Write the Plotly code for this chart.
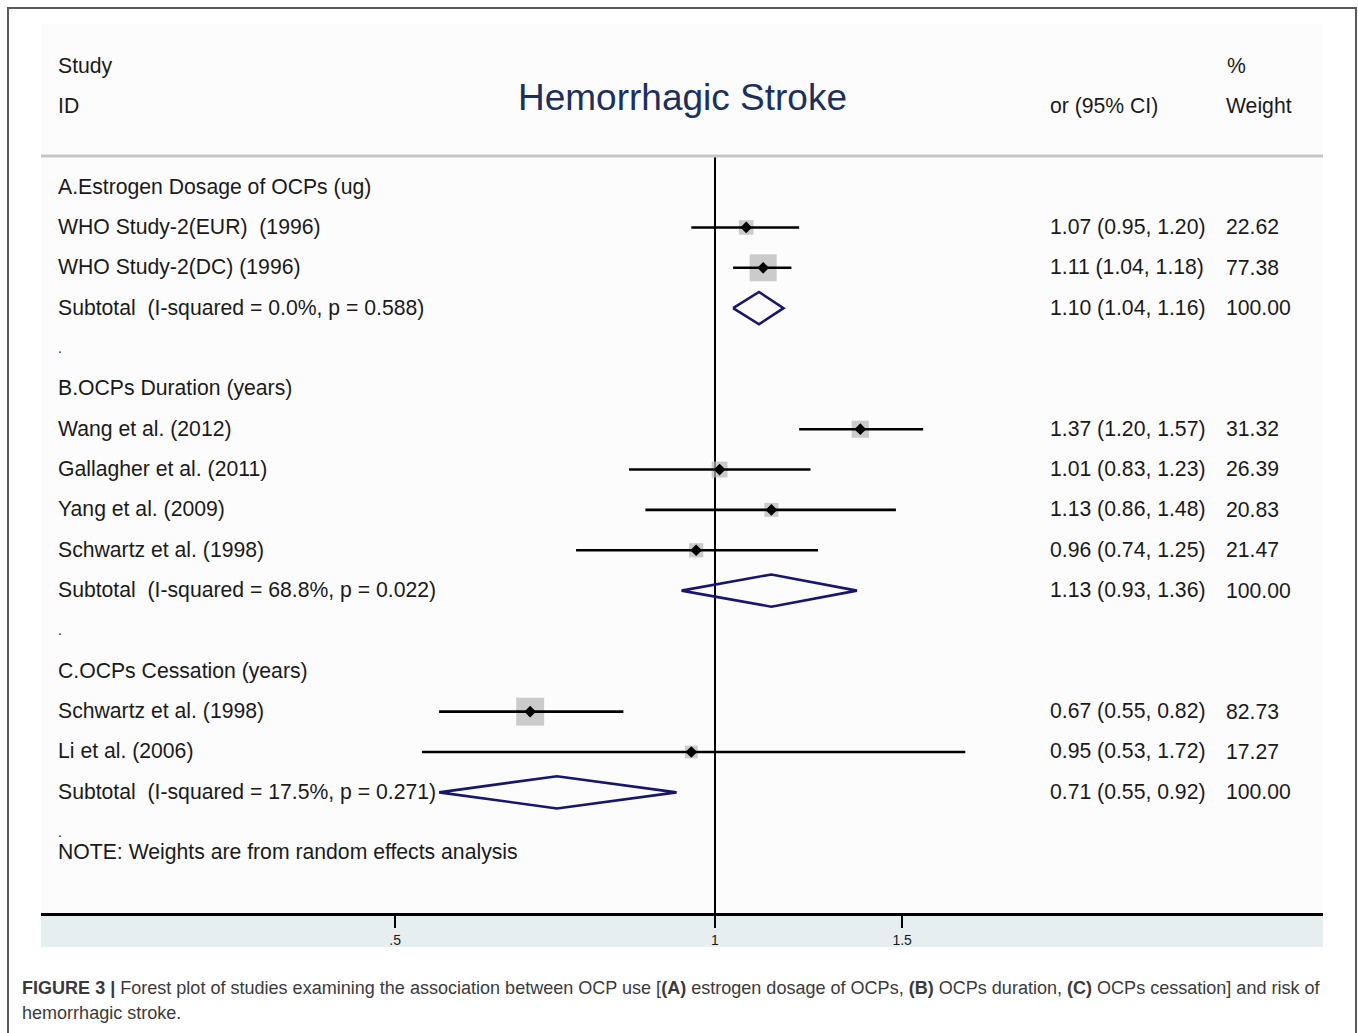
import math
import plotly.graph_objects as go

# ---- data -------------------------------------------------------------
# row index of each line in the forest plot (0 = first group heading)
study_rows = [1, 2, 6, 7, 8, 9, 13, 14]
study_labels = [
    "WHO Study-2(EUR)  (1996)",
    "WHO Study-2(DC) (1996)",
    "Wang et al. (2012)",
    "Gallagher et al. (2011)",
    "Yang et al. (2009)",
    "Schwartz et al. (1998)",
    "Schwartz et al. (1998)",
    "Li et al. (2006)",
]
study_or = [1.07, 1.11, 1.37, 1.01, 1.13, 0.96, 0.67, 0.95]
study_lo = [0.95, 1.04, 1.20, 0.83, 0.86, 0.74, 0.55, 0.53]
study_hi = [1.20, 1.18, 1.57, 1.23, 1.48, 1.25, 0.82, 1.72]
study_wt = [22.62, 77.38, 31.32, 26.39, 20.83, 21.47, 82.73, 17.27]

subtotal_rows = [3, 10, 15]
subtotal_labels = [
    "Subtotal  (I-squared = 0.0%, p = 0.588)",
    "Subtotal  (I-squared = 68.8%, p = 0.022)",
    "Subtotal  (I-squared = 17.5%, p = 0.271)",
]
subtotal_or = [1.10, 1.13, 0.71]
subtotal_lo = [1.04, 0.93, 0.55]
subtotal_hi = [1.16, 1.36, 0.92]
subtotal_wt = [100.00, 100.00, 100.00]

group_rows = [0, 5, 12]
group_labels = [
    "A.Estrogen Dosage of OCPs (ug)",
    "B.OCPs Duration (years)",
    "C.OCPs Cessation (years)",
]
spacer_rows = [4, 11, 16]
note_row = 16.5
note_text = "NOTE: Weights are from random effects analysis"

tick_vals = [0.5, 1, 1.5]
tick_text = [".5", "1", "1.5"]

caption_lines = [
    "<b>FIGURE 3 |</b> Forest plot of studies examining the association between OCP use "
    "[<b>(A)</b> estrogen dosage of OCPs, <b>(B)</b> OCPs duration, <b>(C)</b> OCPs cessation] "
    "and risk of",
    "hemorrhagic stroke.",
]

# ---- layout constants ---------------------------------------------------
W, H = 1358, 1033
ML, MR, MT, MB = 41, 35, 24, 120
PLOT_W = W - ML - MR
PLOT_H = H - MT - MB
ROW0_PX, ROW_PX = 186.5, 40.35        # pixel of row 0 and row pitch
PX_PER_LN = 461.5                     # pixels per natural-log unit
NULL_PX = 715                         # pixel of OR = 1
MARK_SHIFT = 0.6 / ROW_PX             # marks sit slightly below the text centre


def row_of(py):
    return (py - ROW0_PX) / ROW_PX


def px_x(px):
    return (px - ML) / PLOT_W


def px_y(py):
    return (MT + PLOT_H - py) / PLOT_H


x_lo = math.log10(math.exp((ML - NULL_PX) / PX_PER_LN))
x_hi = math.log10(math.exp((ML + PLOT_W - NULL_PX) / PX_PER_LN))
y_top = row_of(MT)
y_bot = row_of(MT + PLOT_H)

FONT = "Liberation Sans, Arial, Helvetica, sans-serif"
TXT = "#1a1a1a"
NAVY = "#16166e"

fig = go.Figure()

mark_rows = [r + MARK_SHIFT for r in study_rows]

# weight boxes (area proportional to weight)
fig.add_trace(go.Scatter(
    x=study_or, y=mark_rows, mode="markers",
    marker=dict(symbol="square", color="#b7b7b7",
                size=[3.07 * math.sqrt(w) for w in study_wt],
                line=dict(width=0)),
    hoverinfo="skip", showlegend=False))

# confidence intervals
for rr, lo, hi in zip(mark_rows, study_lo, study_hi):
    fig.add_trace(go.Scatter(
        x=[lo, hi], y=[rr, rr], mode="lines",
        line=dict(color="black", width=2.6),
        hoverinfo="skip", showlegend=False))

# point estimates
fig.add_trace(go.Scatter(
    x=study_or, y=mark_rows, mode="markers",
    marker=dict(symbol="diamond", color="black", size=9, line=dict(width=0)),
    hoverinfo="skip", showlegend=False))

# pooled diamonds
half_h = 0.4
for r, est, lo, hi in zip(subtotal_rows, subtotal_or, subtotal_lo, subtotal_hi):
    rr = r + MARK_SHIFT
    fig.add_trace(go.Scatter(
        x=[lo, est, hi, est, lo],
        y=[rr, rr - half_h, rr, rr + half_h, rr],
        mode="lines", line=dict(color=NAVY, width=2.6),
        hoverinfo="skip", showlegend=False))

ann = []


def text(x, y, s, size=21.2, color=TXT, xanchor="left", xref="paper", yref="y", **kw):
    ann.append(dict(x=x, y=y, xref=xref, yref=yref, text=s, showarrow=False,
                    xanchor=xanchor, yanchor="middle",
                    font=dict(family=FONT, size=size, color=color), **kw))


# column headings
text(px_x(56), row_of(65.5), "Study")
text(px_x(56), row_of(105.5), "ID")
text(px_x(1048), row_of(105.5), "or (95% CI)")
text(px_x(1225), row_of(65.5), "%")
text(px_x(1224), row_of(105.5), "Weight")
text(0.5, row_of(97.5), "Hemorrhagic Stroke", size=37, color="#1d2f5c", xanchor="center")

col_id, col_ci, col_wt = px_x(56), px_x(1048), px_x(1224)
for r, s in zip(group_rows, group_labels):
    text(col_id, r, s)
for r in spacer_rows:
    text(col_id, r, ".", size=14)
text(col_id, note_row, note_text)

for r, s, e, lo, hi, w in zip(study_rows, study_labels, study_or, study_lo, study_hi, study_wt):
    text(col_id, r, s)
    text(col_ci, r, f"{e:.2f} ({lo:.2f}, {hi:.2f})")
    text(col_wt, r, f"{w:.2f}")
for r, s, e, lo, hi, w in zip(subtotal_rows, subtotal_labels, subtotal_or, subtotal_lo, subtotal_hi, subtotal_wt):
    text(col_id, r, s)
    text(col_ci, r, f"{e:.2f} ({lo:.2f}, {hi:.2f})")
    text(col_wt, r, f"{w:.2f}")

# caption, one annotation per line
for line, py in zip(caption_lines, [988, 1013]):
    ann.append(dict(
        x=px_x(20), y=px_y(py), xref="paper", yref="paper", showarrow=False,
        xanchor="left", yanchor="middle", align="left", text=line,
        font=dict(family="Liberation Sans Narrow, Arial Narrow, Liberation Sans, sans-serif",
                  size=18.05, color="#3a3a3a")))

shapes = [
    # axis strip under the plot
    dict(type="rect", xref="paper", yref="paper", x0=0, x1=1,
         y0=px_y(947), y1=0, fillcolor="#e6eef0", line=dict(width=0), layer="below"),
    # header separator
    dict(type="line", xref="paper", yref="y", x0=0, x1=1,
         y0=row_of(156), y1=row_of(156), line=dict(color="#c6c6c6", width=3)),
    # line of no effect
    dict(type="line", xref="x", yref="y", x0=1, x1=1,
         y0=row_of(156), y1=y_bot, line=dict(color="black", width=2), layer="below"),
    # page frame
    dict(type="rect", xref="paper", yref="paper",
         x0=px_x(8), x1=px_x(1356), y0=px_y(1060), y1=px_y(8),
         line=dict(color="#5a5a5a", width=2), fillcolor="rgba(0,0,0,0)", layer="below"),
]

fig.update_layout(
    width=W, height=H,
    margin=dict(l=ML, r=MR, t=MT, b=MB),
    paper_bgcolor="white", plot_bgcolor="#fcfcfc",
    annotations=ann, shapes=shapes, showlegend=False,
    xaxis=dict(type="log", range=[x_lo, x_hi], tickvals=tick_vals, ticktext=tick_text,
               ticks="outside", ticklen=12, tickwidth=2, tickcolor="black",
               showline=True, linewidth=3, linecolor="black", showgrid=False,
               zeroline=False, fixedrange=True,
               tickfont=dict(family=FONT, size=14, color=TXT)),
    yaxis=dict(range=[y_bot, y_top], visible=False, showgrid=False,
               zeroline=False, fixedrange=True),
)

fig.write_html("out.html")
